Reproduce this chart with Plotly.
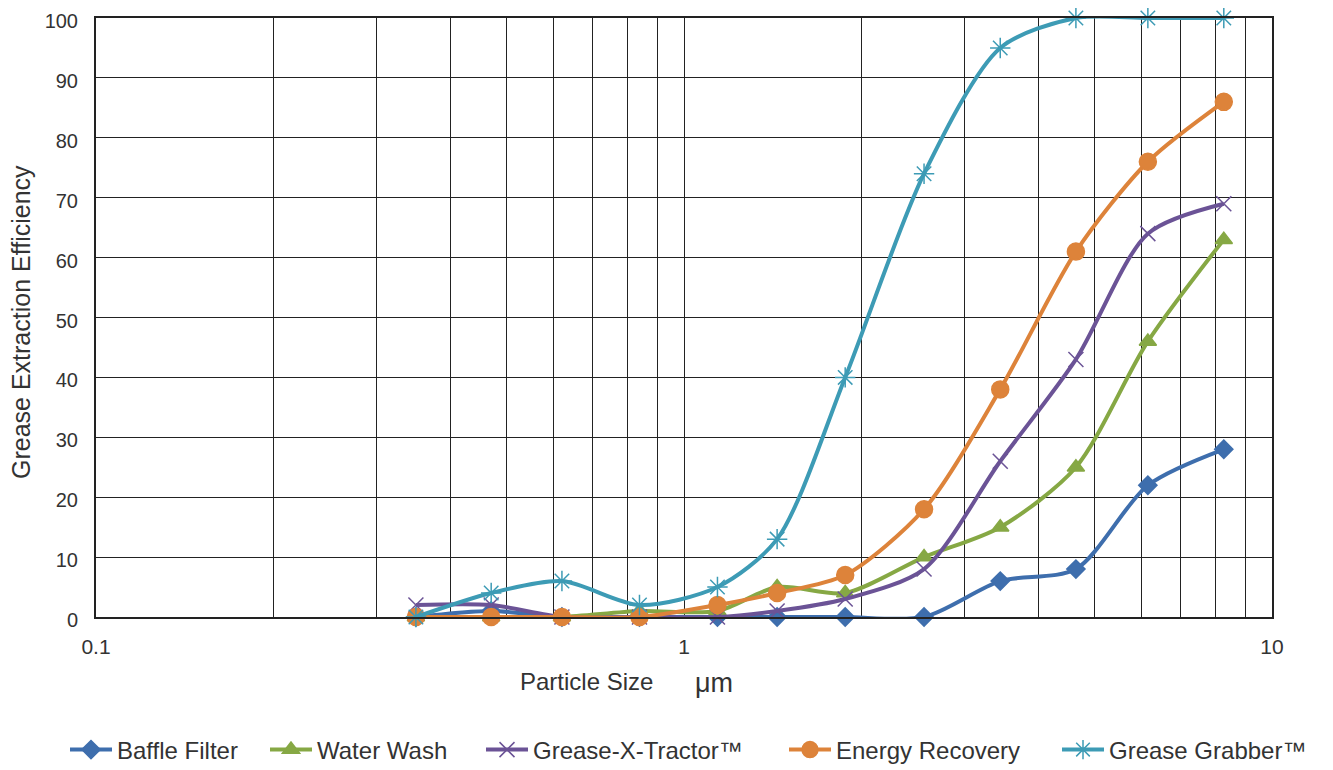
import plotly.graph_objects as go

particle_size = [0.35, 0.47, 0.62, 0.84, 1.14, 1.44, 1.88, 2.56, 3.45, 4.64, 6.15, 8.28]

baffle_filter = [0, 1, 0, 0, 0, 0, 0, 0, 6, 8, 22, 28]
water_wash = [0, 0, 0, 1, 1, 5, 4, 10, 15, 25, 46, 63]
grease_x_tractor = [2, 2, 0, 0, 0, 1, 3, 8, 26, 43, 64, 69]
energy_recovery = [0, 0, 0, 0, 2, 4, 7, 18, 38, 61, 76, 86]
grease_grabber = [0, 4, 6, 2, 5, 13, 40, 74, 95, 100, 100, 100]

series_names = ["Baffle Filter", "Water Wash", "Grease-X-Tractor™", "Energy Recovery", "Grease Grabber™"]
series_values = [baffle_filter, water_wash, grease_x_tractor, energy_recovery, grease_grabber]
colors = ["#3E6EAD", "#86A844", "#6B5396", "#DD833A", "#3D9BB5"]
symbols = ["diamond", "triangle-up", "x-thin-open", "circle", "asterisk-open"]
sizes = [14, 15, 15, 17, 17]

x_major_ticks = [0.1, 1, 10]
x_major_labels = ["0.1", "1", "10"]
x_minor_ticks = [0.2, 0.3, 0.4, 0.5, 0.6, 0.7, 0.8, 0.9, 2, 3, 4, 5, 6, 7, 8, 9]
y_ticks = [0, 10, 20, 30, 40, 50, 60, 70, 80, 90, 100]

W, H = 1333, 770
OX, OY = 9, 8  # page offset of the figure inside the browser window

# target screen positions of the plot area
SL, SR, ST, SB = 97, 1273, 18, 617
L = SL - OX
T = ST - OY
R = W - (SR - OX)
B = H - (SB - OY)
pw = W - L - R
ph = H - T - B


def px_x(v):
    return (v - OX - L) / pw


def px_y(v):
    return (H - B - (v - OY)) / ph


legend_x_screen = [66, 266, 482, 785, 1058]

font_family = "Liberation Sans, Arial, sans-serif"
text_color = "#333333"

fig = go.Figure()
layout_legends = {}
for i, (name, vals, col, sym, sz) in enumerate(zip(series_names, series_values, colors, symbols, sizes)):
    key = "legend" if i == 0 else f"legend{i + 1}"
    fig.add_trace(go.Scatter(
        x=particle_size, y=vals, name=name, mode="lines+markers",
        line=dict(color=col, width=4, shape="spline", smoothing=0.8),
        marker=dict(symbol=sym, size=sz, color=col, line=dict(color=col, width=1.5)),
        cliponaxis=False, legend=key,
    ))
    layout_legends[key] = dict(
        orientation="h", x=px_x(legend_x_screen[i]), xanchor="left",
        y=px_y(750), yanchor="middle", bgcolor="rgba(0,0,0,0)",
        font=dict(size=24, color=text_color), itemwidth=42,
    )

fig.update_layout(
    width=W, height=H,
    margin=dict(l=L, r=R, t=T, b=B, autoexpand=False),
    paper_bgcolor="white", plot_bgcolor="white",
    font=dict(family=font_family, color=text_color, size=21),
    showlegend=True,
    xaxis=dict(
        type="log", range=[-1, 1], automargin=False,
        tickvals=x_major_ticks, ticktext=x_major_labels,
        showgrid=True, gridcolor="#222222", gridwidth=1.3,
        minor=dict(tickvals=x_minor_ticks, showgrid=True, gridcolor="#222222", gridwidth=1.3, ticks=""),
        ticks="", showline=True, linecolor="#222222", linewidth=2, mirror=True,
        tickfont=dict(size=21, color=text_color), zeroline=False, ticklabelstandoff=10,
        ticklabeloverflow="allow",
    ),
    yaxis=dict(
        range=[0, 100], tickvals=y_ticks, automargin=False,
        showgrid=True, gridcolor="#222222", gridwidth=1.3,
        ticks="", showline=True, linecolor="#222222", linewidth=2, mirror=True,
        tickfont=dict(size=20, color=text_color), zeroline=False, ticklabelstandoff=12,
        ticklabelshift=3, ticklabeloverflow="allow",
    ),
    annotations=[
        dict(text="Grease Extraction Efficiency", x=px_x(22), y=px_y(322), xref="paper", yref="paper",
             xanchor="center", yanchor="middle",
             showarrow=False, textangle=-90, font=dict(size=25, color=text_color)),
        dict(text="Particle Size", x=px_x(587), y=px_y(681), xref="paper", yref="paper", showarrow=False,
             xanchor="center", yanchor="middle", font=dict(size=24, color=text_color)),
        dict(text="μm", x=px_x(715), y=px_y(683), xref="paper", yref="paper", showarrow=False,
             xanchor="center", yanchor="middle", font=dict(size=27, color=text_color)),
    ],
    **layout_legends,
)

fig.write_html("out.html")
